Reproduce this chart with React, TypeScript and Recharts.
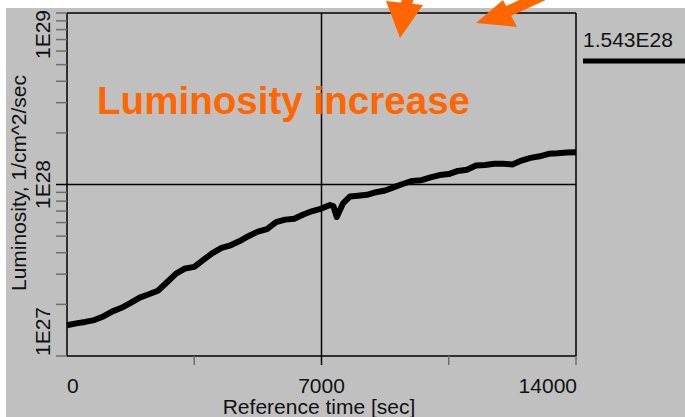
import { LineChart, Line, XAxis, YAxis, ReferenceLine } from 'recharts';

// reference time [sec]
const times = [
  0, 250, 500, 750, 1000, 1250, 1500, 1750, 2000, 2250, 2500, 2750, 3000, 3250, 3500,
  3750, 4000, 4250, 4500, 4750, 5000, 5250, 5500, 5750, 6000, 6250, 6500, 6750, 7000,
  7230, 7330, 7420, 7590, 7780, 8000, 8250, 8500, 8750, 9000, 9250, 9500, 9750, 10000,
  10250, 10500, 10750, 11000, 11250, 11500, 11750, 12000, 12250, 12500, 12750, 13000,
  13250, 13500, 13750, 14000,
];

// luminosity [1/cm^2/sec]
const luminosity = [
  1.51e27, 1.55e27, 1.58e27, 1.62e27, 1.70e27, 1.82e27, 1.91e27, 2.04e27, 2.19e27, 2.29e27,
  2.40e27, 2.69e27, 3.02e27, 3.24e27, 3.31e27, 3.63e27, 3.98e27, 4.27e27, 4.42e27, 4.68e27,
  5.01e27, 5.31e27, 5.50e27, 6.03e27, 6.24e27, 6.31e27, 6.68e27, 7.00e27, 7.24e27,
  7.59e27, 7.45e27, 6.46e27, 7.76e27, 8.51e27, 8.61e27, 8.71e27, 9.02e27, 9.23e27, 9.66e27,
  1.01e28, 1.05e28, 1.06e28, 1.10e28, 1.135e28, 1.15e28, 1.20e28, 1.22e28, 1.29e28, 1.30e28,
  1.32e28, 1.32e28, 1.31e28, 1.38e28, 1.43e28, 1.46e28, 1.51e28, 1.52e28, 1.535e28, 1.543e28,
];

const xTicks = [0, 3500, 7000, 10500, 14000];
const xLabels = [0, 7000, 14000];
const yTicks = [
  1e27, 2e27, 3e27, 4e27, 5e27, 6e27, 7e27, 8e27, 9e27,
  1e28, 2e28, 3e28, 4e28, 5e28, 6e28, 7e28, 8e28, 9e28, 1e29,
];
const yLabels = ['1E27', '1E28', '1E29'];

const data = times.map((t, i) => ({ t, lum: luminosity[i] }));
const lastValue = luminosity[luminosity.length - 1];

const FONT = '"Liberation Sans", Arial, sans-serif';
const ORANGE = '#ff6600';
const TICK_GRAY = '#6e6e6e';

const fmtExp = (v: number) => {
  const e = Math.floor(Math.log10(v));
  return `${(v / 10 ** e).toFixed(3)}E${e}`;
};

function YTick({ x, y, payload }: any) {
  const v = payload.value as number;
  const exp = Math.round(Math.log10(v));
  const isMajor = Math.abs(v - 10 ** exp) < v * 1e-6;
  const idx = exp - 27;
  // end labels are kept inside the axis span
  const anchor = idx === 0 ? 'start' : idx === 2 ? 'end' : 'middle';
  const ty = idx === 2 ? y - 3 : y;
  return (
    <g>
      <line x1={x - 11} x2={x} y1={y} y2={y} stroke={isMajor && idx === 1 ? '#000' : TICK_GRAY} strokeWidth={1.5} />
      {isMajor && (
        <text
          transform={`translate(${x - 17},${ty}) rotate(-90)`}
          textAnchor={anchor}
          fontFamily={FONT}
          fontSize={21}
          fill="#111"
        >
          {yLabels[idx]}
        </text>
      )}
    </g>
  );
}

function XTick({ x, y, payload }: any) {
  const v = payload.value as number;
  const show = xLabels.includes(v);
  const anchor = v === 0 ? 'start' : v === 14000 ? 'end' : 'middle';
  return (
    <g>
      {v !== 0 && <line x1={x} x2={x} y1={y} y2={y + 9} stroke={v === 7000 ? '#000' : TICK_GRAY} strokeWidth={1.5} />}
      {show && (
        <text x={v === 14000 ? x + 1 : x} y={y + 37} textAnchor={anchor} fontFamily={FONT} fontSize={21} fill="#111">
          {v}
        </text>
      )}
    </g>
  );
}

export default function App() {
  return (
    <div style={{ position: 'absolute', left: 0, top: 0, width: 685, height: 417, background: '#fff' }}>
      <div style={{ position: 'absolute', left: 6, top: 8, width: 679, height: 409, background: '#c0c0c0' }} />
      <div style={{ position: 'absolute', left: 0, top: 0 }}>
        <LineChart width={685} height={417} data={data} margin={{ top: 13, right: 109, bottom: 0, left: 0 }}>
          <XAxis
            dataKey="t"
            type="number"
            domain={[0, 14000]}
            ticks={xTicks}
            interval={0}
            height={61}
            tickSize={0}
            tickMargin={0}
            axisLine={false}
            tickLine={false}
            tick={<XTick />}
          />
          <YAxis
            type="number"
            scale="log"
            domain={[1e27, 1e29]}
            allowDataOverflow
            ticks={yTicks}
            interval={0}
            width={67}
            tickSize={0}
            tickMargin={0}
            axisLine={false}
            tickLine={false}
            tick={<YTick />}
          />
          {/* plot frame */}
          <ReferenceLine x={0} stroke="#000" strokeWidth={1.5} />
          <ReferenceLine x={14000} stroke="#000" strokeWidth={1.5} />
          <ReferenceLine y={1e27} stroke="#000" strokeWidth={1.5} />
          <ReferenceLine y={1e29} stroke="#000" strokeWidth={1.5} />
          {/* crosshair */}
          <ReferenceLine x={7000} stroke="#000" strokeWidth={1.5} />
          <ReferenceLine y={1e28} stroke="#000" strokeWidth={1.5} />
          <Line
            dataKey="lum"
            stroke="#000"
            strokeWidth={6}
            strokeLinejoin="round"
            dot={false}
            isAnimationActive={false}
          />
        </LineChart>
      </div>
      <svg width={685} height={417} style={{ position: 'absolute', left: 0, top: 0, pointerEvents: 'none' }}>
        <text
          transform="translate(26,183) rotate(-90)"
          textAnchor="middle"
          fontFamily={FONT}
          fontSize={21}
          fill="#111"
        >
          Luminosity, 1/cm^2/sec
        </text>
        <text x={319} y={414} textAnchor="middle" fontFamily={FONT} fontSize={21} fill="#111">
          Reference time [sec]
        </text>
        <text x={97} y={114} fontFamily={FONT} fontWeight="bold" fontSize={38.6} fill={ORANGE}>
          Luminosity increase
        </text>
        <text x={583} y={47} fontFamily={FONT} fontSize={21} fill="#111">
          {fmtExp(lastValue)}
        </text>
        <line x1={583} x2={685} y1={61} y2={61} stroke="#000" strokeWidth={5} />
        {/* arrows */}
        <line x1={412} y1={-12} x2={404} y2={10} stroke={ORANGE} strokeWidth={11} />
        <polygon points="386,1 423,5 400,38" fill={ORANGE} />
        <line x1={550} y1={-8} x2={502} y2={14} stroke={ORANGE} strokeWidth={11} />
        <polygon points="476,23 517,27 503,0" fill={ORANGE} />
      </svg>
    </div>
  );
}
